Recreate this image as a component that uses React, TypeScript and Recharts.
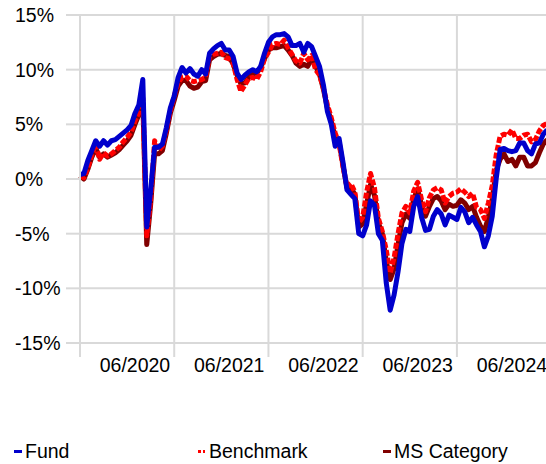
import { CartesianGrid, Legend, Line, LineChart, XAxis, YAxis } from "recharts";

// half-month steps starting 06/2019
const step = 0.5;

const fund = [
  0.4, 0.5, 1.7, 2.6, 3.5, 3.0, 3.5, 3.1, 3.5, 3.6,
  3.9, 4.2, 4.5, 4.9, 6.0, 6.8, 9.1, -4.4, -1.0, 2.9,
  2.9, 3.2, 4.7, 6.5, 7.6, 9.3, 10.2, 9.7, 10.1, 9.6,
  9.4, 10.0, 9.6, 11.5, 11.9, 12.2, 12.4, 11.8, 11.8, 11.2,
  9.7, 9.1, 9.5, 9.8, 10.0, 9.8, 10.3, 11.5, 12.5, 13.0,
  13.2, 13.2, 13.3, 13.0, 12.2, 12.2, 12.4, 11.6, 12.4, 12.1,
  11.2, 10.3, 8.6, 6.2, 5.0, 3.0, 3.7, 1.5, -1.0, -1.4,
  -1.8, -5.0, -5.2, -4.2, -2.0, -2.4, -5.0, -5.6, -9.5, -12.0,
  -10.6, -8.5, -5.9, -4.6, -4.8, -2.5, -1.6, -3.5, -4.7, -4.6,
  -3.4, -2.8, -3.2, -4.2, -3.3, -3.5, -3.7, -2.6, -3.0, -4.0,
  -3.5, -4.2, -4.8, -6.2, -5.2, -3.4, 0.0, 2.7, 2.8, 2.6,
  2.5, 2.6, 3.3, 3.3, 2.6, 2.3, 3.2, 3.3, 4.1, 4.5,
];

const benchmark = [
  0.3, 0.1, 1.0, 2.2, 3.2, 1.8, 2.4, 2.1, 2.3, 2.6,
  2.9, 3.4, 3.8, 4.3, 5.3, 6.1, 7.4, -5.2, -1.9, 3.5,
  2.6, 3.0, 4.5, 6.2, 7.6, 8.8, 9.3, 9.4, 9.0, 8.9,
  9.0, 9.1, 9.3, 11.2, 11.4, 11.5, 11.6, 11.1, 11.0, 10.6,
  9.1, 8.0, 8.6, 9.2, 9.3, 9.1, 9.8, 11.0, 11.6, 12.3,
  12.4, 12.3, 12.7, 12.0, 11.4, 10.8, 10.6, 11.5, 10.9, 11.3,
  10.0, 9.5, 8.3, 6.8, 5.6, 4.2, 3.2, 1.1, -0.7, -0.4,
  -1.2, -4.0, -3.5, -1.2, 0.5, -0.8, -3.6, -4.8, -6.5, -8.6,
  -7.2, -5.0, -3.1, -2.5, -3.1, -1.1, -0.3, -1.9, -3.0, -1.7,
  -1.0, -0.8, -1.0, -2.2, -1.6, -1.3, -1.2, -0.9, -1.2, -1.6,
  -1.3, -2.6, -2.8, -3.6, -2.2, -0.6, 2.2, 3.9, 4.1, 4.0,
  4.5, 3.7, 3.7, 4.0, 4.1, 3.4, 3.6, 4.4, 4.9, 5.1,
];

const category = [
  0.3, 0.0, 0.9, 2.0, 2.8, 2.0, 2.3, 2.0, 2.2, 2.4,
  2.7, 3.1, 3.5, 4.0, 5.0, 5.9, 7.0, -6.0, -2.3, 2.3,
  2.3, 2.6, 4.2, 6.0, 7.2, 8.5, 9.0, 9.0, 8.5, 8.3,
  8.4, 8.9, 9.0, 10.9, 11.2, 11.4, 11.5, 11.3, 11.2, 10.5,
  9.5, 8.7, 8.8, 9.3, 9.6, 9.7, 10.2, 11.0, 11.8, 12.0,
  12.0, 12.1, 12.2, 11.8, 11.3, 10.6, 10.3, 10.5, 10.3, 11.0,
  10.3, 9.6, 8.2, 6.5, 5.3, 3.8, 3.4, 1.2, -0.8, -0.8,
  -1.4, -4.4, -4.1, -2.3, -0.5, -1.5, -4.0, -5.0, -7.5, -9.2,
  -8.2, -6.0, -4.0, -3.2, -3.6, -1.8, -0.9, -2.4, -3.4, -2.5,
  -1.8, -1.6, -2.0, -2.8, -2.3, -2.5, -2.4, -1.9, -2.2, -2.8,
  -2.5, -3.5, -4.3, -4.8, -3.5, -1.8, 0.8, 1.8, 2.3, 1.6,
  1.8, 1.2, 2.0, 2.0, 1.2, 1.2, 1.5, 2.4, 3.2, 3.6,
];

const xTicks = [0, 12, 24, 36, 48, 60];
const xLabels = ["", "06/2020", "06/2021", "06/2022", "06/2023", "06/2024"];
const yTicks = [-15, -10, -5, 0, 5, 10, 15];

const seriesNames = ["Fund", "Benchmark", "MS Category"];

const data = fund.map((v, i) => ({
  m: i * step,
  fund: v,
  benchmark: benchmark[i],
  category: category[i],
}));

const font = "'Liberation Sans', Arial, sans-serif";
const gridColor = "#d9d9d9";

function XTick({ x, y, payload }: any) {
  const idx = xTicks.indexOf(payload.value);
  return (
    <text x={x - 4} y={y} dy={13} textAnchor="end" fontSize={19.5} fontFamily={font} fill="#000">
      {xLabels[idx] ?? ""}
    </text>
  );
}

function YTick({ y, payload }: any) {
  return (
    <text x={15} y={y} dy="0.36em" textAnchor="start" fontSize={19.5} fontFamily={font} fill="#000">
      {payload.value}%
    </text>
  );
}

function LegendContent() {
  const items = [
    { name: seriesNames[0], left: 14, color: "#0000cc", dotted: false },
    { name: seriesNames[1], left: 198, color: "#ff0000", dotted: true },
    { name: seriesNames[2], left: 383, color: "#800000", dotted: false },
  ];
  return (
    <div style={{ position: "relative", height: 24, fontFamily: font, fontSize: 19.5, color: "#000" }}>
      {items.map((it) => (
        <div key={it.name} style={{ position: "absolute", left: it.left, top: 0, display: "flex", alignItems: "center" }}>
          {it.dotted ? (
            <span style={{ display: "inline-flex", width: 9, marginRight: 2 }}>
              <span style={{ width: 3, height: 3, background: it.color, marginRight: 2 }} />
              <span style={{ width: 2, height: 3, background: it.color }} />
            </span>
          ) : (
            <span style={{ display: "inline-block", width: 8, height: 3, background: it.color, marginRight: 3 }} />
          )}
          <span>{it.name}</span>
        </div>
      ))}
    </div>
  );
}

export default function App() {
  return (
    <div style={{ position: "fixed", left: 0, top: 0, width: 546, height: 464, overflow: "hidden", background: "#fff" }}>
      <LineChart width={560} height={464} data={data} margin={{ top: 15, right: 1, left: 0, bottom: 0 }}>
        <CartesianGrid stroke={gridColor} strokeWidth={2} />
        <XAxis
          dataKey="m"
          type="number"
          domain={[0, 61]}
          ticks={xTicks}
          interval={0}
          height={121}
          tickSize={14}
          tickLine={{ stroke: gridColor, strokeWidth: 2 }}
          axisLine={{ stroke: gridColor, strokeWidth: 2 }}
          tick={<XTick />}
        />
        <YAxis
          type="number"
          domain={[-15, 15]}
          ticks={yTicks}
          interval={0}
          width={80}
          tickSize={14}
          tickLine={{ stroke: gridColor, strokeWidth: 2 }}
          axisLine={{ stroke: gridColor, strokeWidth: 2 }}
          tick={<YTick />}
        />
        <Legend
          layout="horizontal"
          verticalAlign="middle"
          align="center"
          wrapperStyle={{ top: 440, left: 0, width: 546 }}
          content={<LegendContent />}
        />
        <Line dataKey="category" name={seriesNames[2]} stroke="#800000" strokeWidth={5} dot={false} isAnimationActive={false} strokeLinejoin="round" />
        <Line dataKey="benchmark" name={seriesNames[1]} stroke="#ff0000" strokeWidth={5} strokeDasharray="6 2" dot={false} isAnimationActive={false} strokeLinejoin="round" />
        <Line dataKey="fund" name={seriesNames[0]} stroke="#0000cc" strokeWidth={5} dot={false} isAnimationActive={false} strokeLinejoin="round" />
      </LineChart>
    </div>
  );
}
